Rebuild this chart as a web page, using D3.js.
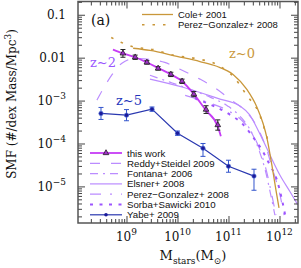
<!DOCTYPE html>
<html><head><meta charset="utf-8">
<script src="https://cdn.jsdelivr.net/npm/d3@7"></script>
<style>body{margin:0;background:#fff}svg{display:block}</style>
</head><body>
<svg id="c" width="301" height="268"></svg>
<script>
// ---------- DATA (log10 values) ----------
const thisWorkLogM   = [8.93, 9.17, 9.40, 9.62, 9.87, 10.09, 10.32, 10.56, 10.79];
const thisWorkLogPhi = [-1.90, -1.99, -2.11, -2.25, -2.39, -2.55, -2.85, -3.21, -3.57];
const thisWorkErr    = [0.09, 0.05, 0.04, 0.04, 0.05, 0.05, 0.06, 0.09, 0.12];
const thisWorkFitLogM   = [8.735, 8.93, 9.17, 9.40, 9.62, 9.87, 10.09, 10.32, 10.56, 10.79, 10.85];
const thisWorkFitLogPhi = [-1.81, -1.90, -1.99, -2.11, -2.24, -2.39, -2.55, -2.85, -3.23, -3.60, -3.83];

const yabeLogM   = [8.5, 9.0, 9.5, 10.0, 10.5, 11.0, 11.5];
const yabeLogPhi = [-3.30, -3.34, -3.20, -3.76, -4.11, -4.53, -4.76];
const yabeHi     = [-3.16, -3.21, -3.15, -3.71, -4.00, -4.39, -4.60];
const yabeLo     = [-3.44, -3.47, -3.25, -3.81, -4.30, -4.67, -5.09];

const coleLogM   = [9.13, 9.46, 9.99, 10.44, 10.77, 11.09, 11.36, 11.56, 11.68, 11.75, 11.85, 11.93, 11.99];
const coleLogPhi = [-1.78, -1.83, -1.97, -2.09, -2.20, -2.39, -2.74, -3.16, -3.54, -3.85, -4.50, -5.08, -5.50];

const pg0LogM   = [8.70, 8.89, 9.11, 9.52, 9.95, 10.36, 10.77, 11.11, 11.36, 11.60, 11.77];
const pg0LogPhi = [-1.53, -1.64, -1.74, -1.81, -1.95, -2.02, -2.16, -2.46, -2.88, -3.30, -3.92];

const reddyLogM   = [8.42, 8.56, 8.72, 8.91, 9.17, 9.46, 9.75, 10.05, 10.44, 10.74, 11.03, 11.32, 11.54, 11.72, 11.87, 12.01, 12.09];
const reddyLogPhi = [-2.99, -2.69, -2.39, -2.13, -2.02, -2.04, -2.11, -2.27, -2.50, -2.71, -2.97, -3.23, -3.57, -4.04, -4.62, -5.20, -5.67];

const fontanaLogM   = [9.46, 9.85, 10.25, 10.64, 10.99, 11.26, 11.46, 11.60, 11.72, 11.81, 11.91];
const fontanaLogPhi = [-2.41, -2.57, -2.74, -2.92, -3.13, -3.41, -3.76, -4.16, -4.62, -5.09, -5.67];

const elsnerLogM   = [9.46, 10.11, 10.79, 11.23, 11.42, 11.58, 11.77, 12.01, 12.21, 12.36];
const elsnerLogPhi = [-2.50, -2.69, -2.95, -3.13, -3.34, -3.69, -4.16, -4.74, -5.13, -5.43];

const pg2LogM   = [10.15, 10.54, 10.93, 11.26, 11.46, 11.62, 11.74, 11.85, 11.93];
const pg2LogPhi = [-2.88, -3.02, -3.20, -3.46, -3.76, -4.16, -4.62, -5.20, -5.67];

const sorbaLogM   = [10.34, 10.64, 10.99, 11.28, 11.48, 11.66, 11.81, 11.95, 12.05, 12.13];
const sorbaLogPhi = [-2.95, -3.09, -3.30, -3.55, -3.85, -4.16, -4.50, -4.85, -5.32, -5.78];

const xTickExp = [9, 10, 11, 12];
const yTickExp = [-1, -2, -3, -4, -5];
const yTickLabels = ["0.1", "0.01", "10|−3", "10|−4", "10|−5"];
const bottomLegend = ["this work", "Reddy+Steidel 2009", "Fontana+ 2006", "Elsner+ 2008",
                      "Perez−Gonzalez+ 2008", "Sorba+Sawicki 2010", "Yabe+ 2009"];
const topLegend = ["Cole+ 2001", "Perez−Gonzalez+ 2008"];

// ---------- LAYOUT ----------
const L = 78, R = 298, T = 1.5, B = 223;
const x = d3.scaleLog().domain([10 ** 8.049, 10 ** 12.363]).range([L, R]);
const y = d3.scaleLog().domain([10 ** -5.853, 10 ** -0.691]).range([B, T]);

const GOLD = "#c9973a", MAG = "#c63cf5", LPUR = "#bb8cff", SORB = "#9d55ff", BLUE = "#1a1a9a";
const SERIF = "'DejaVu Serif', serif", SANS = "'Liberation Sans', Arial, sans-serif";

const svg = d3.select("#c");
svg.append("defs").append("clipPath").attr("id", "clip")
  .append("rect").attr("x", L).attr("y", T).attr("width", R - L).attr("height", B - T);

const pts = (lm, lp) => lm.map((m, i) => [10 ** m, 10 ** lp[i]]);
const line = d3.line().x(d => x(d[0])).y(d => y(d[1])).curve(d3.curveMonotoneX);
const plot = svg.append("g").attr("clip-path", "url(#clip)");

function curve(lm, lp, color, width, dash) {
  plot.append("path").attr("d", line(pts(lm, lp))).attr("fill", "none")
    .attr("stroke", color).attr("stroke-width", width)
    .attr("stroke-dasharray", dash || null);
}

// z~2 literature curves
curve(reddyLogM, reddyLogPhi, LPUR, 1.2, "10,11");
curve(fontanaLogM, fontanaLogPhi, LPUR, 1.2, "8,5,2,5");
curve(elsnerLogM, elsnerLogPhi, LPUR, 1.2, null);
curve(pg2LogM, pg2LogPhi, LPUR, 1.2, "11,8,2,8");
curve(sorbaLogM, sorbaLogPhi, SORB, 2, "3,6");
// z~0
curve(coleLogM, coleLogPhi, GOLD, 1.3, null);
curve(pg0LogM, pg0LogPhi, GOLD, 1.6, "2.5,8");
// this work
curve(thisWorkFitLogM, thisWorkFitLogPhi, MAG, 1.8, null);

// error bars this work
const tw = thisWorkLogM.map((m, i) => ({ m, p: thisWorkLogPhi[i], e: thisWorkErr[i] }));
const eg = plot.append("g").attr("stroke", "#222").attr("stroke-width", 1);
tw.forEach(d => {
  const cx = x(10 ** d.m), y1 = y(10 ** (d.p + d.e)), y2 = y(10 ** (d.p - d.e));
  eg.append("line").attr("x1", cx).attr("x2", cx).attr("y1", y1).attr("y2", y2);
  eg.append("line").attr("x1", cx - 2.5).attr("x2", cx + 2.5).attr("y1", y1).attr("y2", y1);
  eg.append("line").attr("x1", cx - 2.5).attr("x2", cx + 2.5).attr("y1", y2).attr("y2", y2);
});
const tri = d3.symbol().type(d3.symbolTriangle).size(14);
plot.selectAll(".tw").data(tw).join("path")
  .attr("transform", d => `translate(${x(10 ** d.m)},${y(10 ** d.p)})`)
  .attr("d", tri).attr("fill", "#a030c8").attr("stroke", "#222").attr("stroke-width", 0.8);

// Yabe
const yb = yabeLogM.map((m, i) => ({ m, p: yabeLogPhi[i], hi: yabeHi[i], lo: yabeLo[i] }));
plot.append("path").attr("d", d3.line().x(d => x(10 ** d.m)).y(d => y(10 ** d.p))(yb))
  .attr("fill", "none").attr("stroke", "#2a38b0").attr("stroke-width", 1.2);
const bg = plot.append("g").attr("stroke", "#3355cc").attr("stroke-width", 1);
yb.forEach(d => {
  const cx = x(10 ** d.m), y1 = y(10 ** d.hi), y2 = y(10 ** d.lo);
  bg.append("line").attr("x1", cx).attr("x2", cx).attr("y1", y1).attr("y2", y2);
  bg.append("line").attr("x1", cx - 2.5).attr("x2", cx + 2.5).attr("y1", y1).attr("y2", y1);
  bg.append("line").attr("x1", cx - 2.5).attr("x2", cx + 2.5).attr("y1", y2).attr("y2", y2);
});
plot.selectAll(".yb").data(yb).join("circle")
  .attr("cx", d => x(10 ** d.m)).attr("cy", d => y(10 ** d.p)).attr("r", 2.2)
  .attr("fill", BLUE).attr("stroke", "#5577dd").attr("stroke-width", 0.6);

// ---------- AXES ----------
const xMajor = xTickExp.map(e => 10 ** e);
const xMinor = [];
for (let e = 8; e <= 12; e++) for (let k = 2; k <= 9; k++) { const v = k * 10 ** e; if (v > x.domain()[0] && v < x.domain()[1]) xMinor.push(v); }
const yMajor = yTickExp.map(e => 10 ** e);
const yMinor = [];
for (let e = -6; e <= -1; e++) for (let k = 2; k <= 9; k++) { const v = k * 10 ** e; if (v > y.domain()[0] && v < y.domain()[1]) yMinor.push(v); }

function ax(gen, scale, vals, size, tr) {
  const g = svg.append("g").attr("transform", tr)
    .call(gen(scale).tickValues(vals).tickSize(size).tickFormat(""));
  g.select(".domain").remove();
  g.selectAll("line").attr("stroke", "#444").attr("stroke-width", 1);
}
ax(d3.axisBottom, x, xMajor, -7, `translate(0,${B})`);
ax(d3.axisBottom, x, xMinor, -4, `translate(0,${B})`);
ax(d3.axisTop, x, xMajor, -7, `translate(0,${T})`);
ax(d3.axisTop, x, xMinor, -4, `translate(0,${T})`);
ax(d3.axisLeft, y, yMajor, -7, `translate(${L},0)`);
ax(d3.axisLeft, y, yMinor, -4, `translate(${L},0)`);
ax(d3.axisRight, y, yMajor, -7, `translate(${R},0)`);
ax(d3.axisRight, y, yMinor, -4, `translate(${R},0)`);

svg.append("rect").attr("x", L).attr("y", T).attr("width", R - L).attr("height", B - T)
  .attr("fill", "none").attr("stroke", "#555").attr("stroke-width", 1.5);

// tick labels
yMajor.forEach((v, i) => {
  const parts = yTickLabels[i].split("|");
  const t = svg.append("text").attr("x", 66).attr("y", y(v) + 4.5).attr("text-anchor", "end")
    .attr("font-family", SERIF).attr("font-size", 12).attr("fill", "#111");
  t.append("tspan").text(parts[0]);
  if (parts[1]) t.append("tspan").attr("dy", -6).attr("font-size", 9).text(parts[1]);
});
xMajor.forEach((v, i) => {
  const t = svg.append("text").attr("x", x(v)).attr("y", 241).attr("text-anchor", "middle")
    .attr("font-family", SERIF).attr("font-size", 12).attr("fill", "#111");
  t.append("tspan").text("10");
  t.append("tspan").attr("dy", -6).attr("font-size", 9).text(String(xTickExp[i]));
});

// axis titles
const yt = svg.append("text").attr("transform", "translate(16,104) rotate(-90)")
  .attr("text-anchor", "middle").attr("font-family", SERIF).attr("font-size", 12).attr("fill", "#111");
yt.append("tspan").text("SMF (#/dex Mass/Mpc");
yt.append("tspan").attr("dy", -5).attr("font-size", 9).text("3");
yt.append("tspan").attr("dy", 5).text(")");

const xt = svg.append("text").attr("x", 193).attr("y", 260).attr("text-anchor", "middle")
  .attr("font-family", SERIF).attr("font-size", 13).attr("fill", "#111");
xt.append("tspan").text("M");
xt.append("tspan").attr("dy", 4).attr("font-size", 9).text("stars");
xt.append("tspan").attr("dy", -4).text("(M");
xt.append("tspan").attr("dy", 4).attr("font-size", 9).text("⊙");
xt.append("tspan").attr("dy", -4).text(")");

// panel label and redshift labels
svg.append("text").attr("x", 91).attr("y", 25).attr("font-family", SERIF).attr("font-size", 14).attr("fill", "#111").text("(a)");
svg.append("text").attr("x", 229).attr("y", 58).attr("font-family", SERIF).attr("font-size", 13).attr("fill", GOLD).text("z~0");
svg.append("text").attr("x", 90).attr("y", 67).attr("font-family", SERIF).attr("font-size", 13).attr("fill", "#9955ff").text("z~2");
svg.append("text").attr("x", 116).attr("y", 105).attr("font-family", SERIF).attr("font-size", 13).attr("fill", "#2233bb").text("z~5");

// top legend
const tl = svg.append("g");
[[GOLD, 1.3, null], [GOLD, 1.6, "2.5,8"]].forEach((s, i) => {
  const yy = 14.5 + i * 10.3;
  tl.append("line").attr("x1", 142).attr("x2", 173).attr("y1", yy).attr("y2", yy)
    .attr("stroke", s[0]).attr("stroke-width", s[1]).attr("stroke-dasharray", s[2]);
  tl.append("text").attr("x", 178).attr("y", yy + 3.5).attr("font-family", SANS).attr("font-size", 9.5)
    .attr("fill", "#111").text(topLegend[i]);
});

// bottom legend
const bl = svg.append("g");
const styles = [[MAG, 1.8, null], [LPUR, 1.2, "10,11"], [LPUR, 1.2, "8,5,2,5"], [LPUR, 1.2, null],
                [LPUR, 1.2, "11,9,2,9"], [SORB, 2, "3,6.5"], ["#2a38b0", 1.2, null]];
styles.forEach((s, i) => {
  const yy = 153 + i * 10.3;
  bl.append("line").attr("x1", 90).attr("x2", 122).attr("y1", yy).attr("y2", yy)
    .attr("stroke", s[0]).attr("stroke-width", s[1]).attr("stroke-dasharray", s[2]);
  bl.append("text").attr("x", 127).attr("y", yy + 3.5).attr("font-family", SANS).attr("font-size", 9.7)
    .attr("fill", "#111").text(bottomLegend[i]);
});
bl.append("path").attr("transform", "translate(106,153)").attr("d", tri)
  .attr("fill", "#a030c8").attr("stroke", "#222").attr("stroke-width", 0.8);
bl.append("circle").attr("cx", 106).attr("cy", 153 + 6 * 10.3).attr("r", 1.8).attr("fill", BLUE);
</script>
</body></html>
